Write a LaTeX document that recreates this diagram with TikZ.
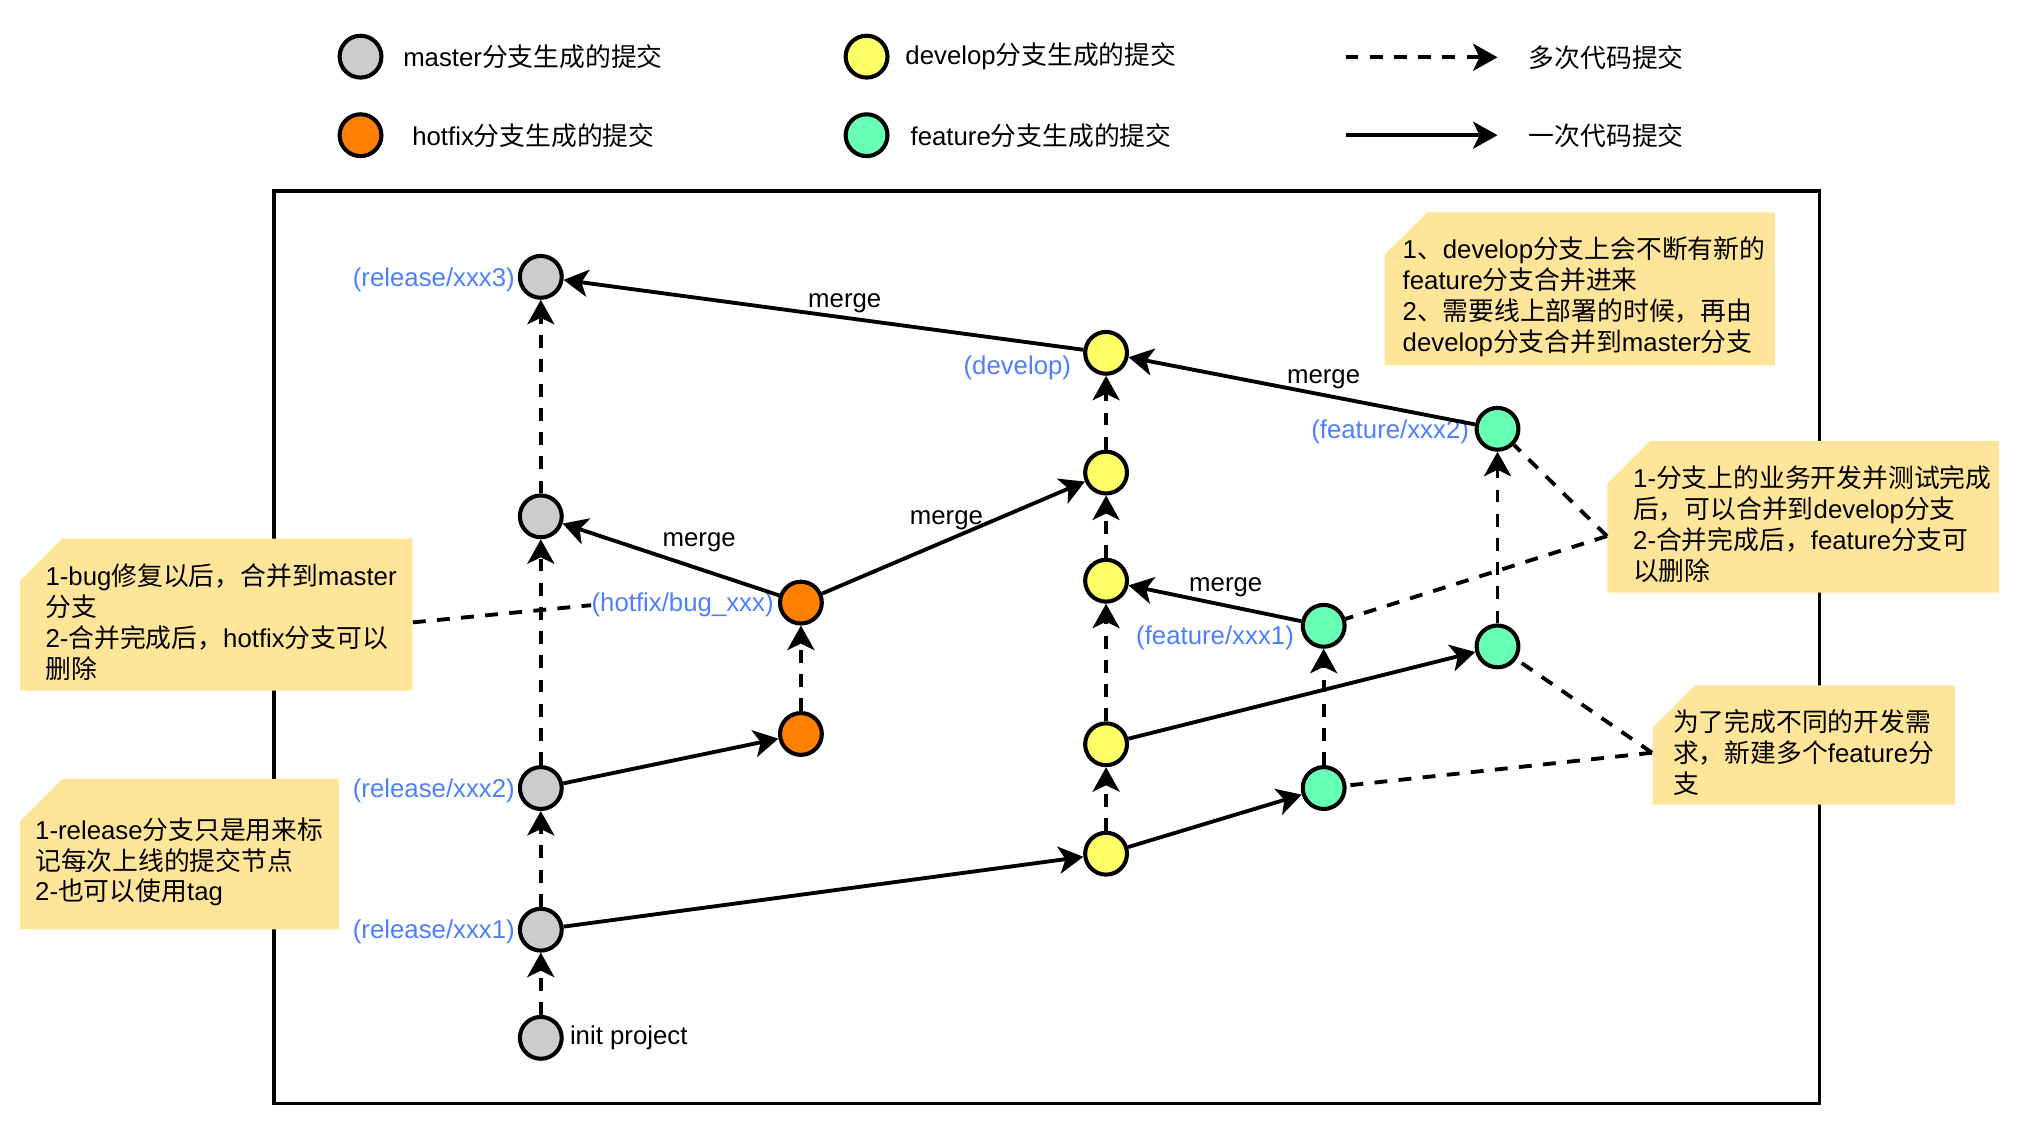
\documentclass[tikz,border=0pt]{standalone}
\usepackage{fontspec}
\setmainfont{Liberation Sans}
\newfontfamily\cjk{Noto Sans CJK SC}
\usetikzlibrary{arrows.meta,positioning}

\definecolor{mastergray}{HTML}{CCCCCC}
\definecolor{hotfixorange}{HTML}{FF8000}
\definecolor{developyellow}{HTML}{FFFF66}
\definecolor{featuregreen}{HTML}{66FFB3}
\definecolor{memofill}{HTML}{FFE599}
\definecolor{branchblue}{HTML}{4D7FFF}

\exhyphenpenalty=10000
\hyphenpenalty=10000

\begin{document}
\begin{tikzpicture}[x=0.02cm, y=0.02cm,
    every node/.style={font=\fontsize{11.4pt}{13.66pt}\selectfont},
    commit/.style={circle, draw, line width=1.8pt, minimum size=0.65cm, inner sep=0pt, fill=#1},
    branchlbl/.style={text=branchblue, inner sep=0pt, yshift=-0.04cm},
    mergelbl/.style={inner sep=0pt},
    onecommit/.style={line width=1.7pt, -{Stealth[length=0.38cm, width=0.42cm, inset=0.1cm]}},
    manycommit/.style={onecommit, dash pattern=on 5.7pt off 5pt},
    memolink/.style={line width=1.7pt, dash pattern=on 5.7pt off 5pt},
    memo/.style 2 args={anchor=north west, align=left, inner ysep=0pt,
      minimum width=#1, minimum height=#2,
      path picture={\fill[memofill] ([xshift=0.66cm]path picture bounding box.north west)
        -- (path picture bounding box.north east)
        -- ([yshift=0.24cm]path picture bounding box.south east)
        -- ([yshift=0.24cm]path picture bounding box.south west)
        -- ([yshift=-0.66cm]path picture bounding box.north west) -- cycle;}}]

    \useasboundingbox (0,0) rectangle (1568,-880);

    % --- 1. 凡例 ---
    \node[commit=mastergray]    (legMaster)  at (280,-44)  {};
    \node[commit=hotfixorange]  (legHotfix)  at (280,-105) {};
    \node[commit=developyellow] (legDevelop) at (673,-44)  {};
    \node[commit=featuregreen]  (legFeature) at (673,-105) {};
    \node[inner sep=0pt, right=0.3cm of legMaster]  (legMasterTxt)  {master{\cjk 分支生成的提交}};
    \node[inner sep=0pt, right=0.44cm of legHotfix] (legHotfixTxt)  {hotfix{\cjk 分支生成的提交}};
    \node[inner sep=0pt, right=0.24cm of legDevelop] (legDevelopTxt) {develop{\cjk 分支生成的提交}};
    \node[inner sep=0pt, right=0.32cm of legFeature] (legFeatureTxt) {feature{\cjk 分支生成的提交}};

    % 矢印の凡例（破線：多次, 実線：一次）
    \coordinate (legDashA)  at (1045,-44.5);
    \coordinate (legDashB)  at (1163,-44.5);
    \coordinate (legSolidA) at (1045,-105);
    \coordinate (legSolidB) at (1163,-105);
    \draw[manycommit] (legDashA) -- (legDashB);
    \draw[onecommit]  (legSolidA) -- (legSolidB);
    \node[inner sep=0pt, right=0.48cm of legDashB]  (legDashTxt)  {{\cjk 多次代码提交}};
    \node[inner sep=0pt, right=0.48cm of legSolidB] (legSolidTxt) {{\cjk 一次代码提交}};

    % --- 2. 外枠 ---
    \draw[line width=1.7pt] (213,-148) rectangle (1413,-857);

    % --- 3. x座標の基準定義 ---
    % xMaster: master, xHotfix: hotfix, xDevelop: develop, xFeatA/xFeatB: feature
    \def\xMaster{420}
    \def\xHotfix{622}
    \def\xDevelop{859}
    \def\xFeatA{1028}
    \def\xFeatB{1163}

    % --- 4. コミット（丸）---
    \node[commit=mastergray] (M0)   at (\xMaster,-806) {};
    \node[commit=mastergray] (M1)   at (\xMaster,-722) {};
    \node[commit=mastergray] (M2)   at (\xMaster,-612) {};
    \node[commit=mastergray] (MMid) at (\xMaster,-401) {};
    \node[commit=mastergray] (M3)   at (\xMaster,-215) {};

    \node[commit=hotfixorange] (H1) at (\xHotfix,-570) {};
    \node[commit=hotfixorange] (H2) at (\xHotfix,-468) {};

    \node[commit=developyellow] (D1) at (\xDevelop,-663) {};
    \node[commit=developyellow] (D2) at (\xDevelop,-578) {};
    \node[commit=developyellow] (D3) at (\xDevelop,-451) {};
    \node[commit=developyellow] (D4) at (\xDevelop,-367) {};
    \node[commit=developyellow] (D5) at (\xDevelop,-274) {};

    \node[commit=featuregreen] (FA1) at (\xFeatA,-612) {};
    \node[commit=featuregreen] (FA2) at (\xFeatA,-486) {};
    \node[commit=featuregreen] (FB1) at (\xFeatB,-502) {};
    \node[commit=featuregreen] (FB2) at (\xFeatB,-333) {};

    % --- 5. ブランチ名 ---
    \node[branchlbl, left=0.04cm of M3]  (lblM3) {(release/xxx3)};
    \node[branchlbl, left=0.04cm of M2]  (lblM2) {(release/xxx2)};
    \node[branchlbl, left=0.04cm of M1]  (lblM1) {(release/xxx1)};
    \node[inner sep=0pt, right=0.09cm of M0] (lblInit) {init project};
    \node[branchlbl, left=0.06cm of H2] (lblH2) {(hotfix/bug\_xxx)};
    \node[branchlbl, left=0.18cm of D5, yshift=-0.19cm] (lblD5) {(develop)};
    \node[branchlbl, left=0.1cm of FA2, yshift=-0.15cm] (lblFA2) {(feature/xxx1)};
    \node[branchlbl, left=0.08cm of FB2] (lblFB2) {(feature/xxx2)};

    % --- 6. 枝 ---
    % 多次提交（破線）
    \draw[manycommit] (M0) -- (M1);
    \draw[manycommit] (M1) -- (M2);
    \draw[manycommit] (M2) -- (MMid);
    \draw[manycommit] (MMid) -- (M3);
    \draw[manycommit] (H1) -- (H2);
    \draw[manycommit] (D1) -- (D2);
    \draw[manycommit] (D2) -- (D3);
    \draw[manycommit] (D3) -- (D4);
    \draw[manycommit] (D4) -- (D5);
    \draw[manycommit] (FA1) -- (FA2);
    \draw[manycommit] (FB1) -- (FB2);

    % 一次提交（実線）
    \draw[onecommit] (M1) -- (D1);
    \draw[onecommit] (M2) -- (H1);
    \draw[onecommit] (D1) -- (FA1);
    \draw[onecommit] (D2) -- (FB1);

    % merge
    \draw[onecommit] (H2)  -- node[mergelbl, pos=0.369, above=0.23cm]  {merge} (MMid);
    \draw[onecommit] (H2)  -- node[mergelbl, pos=0.473, above=0.13cm]  {merge} (D4);
    \draw[onecommit] (FA2) -- node[mergelbl, pos=0.437, above=0.1cm]   {merge} (D3);
    \draw[onecommit] (FB2) -- node[mergelbl, pos=0.437, above=0.07cm]  {merge} (D5);
    \draw[onecommit] (D5)  -- node[mergelbl, pos=0.459, above=0.046cm] {merge} (M3);

    % --- 7. メモ ---
    \node[memo={6.06cm}{2.62cm}, inner xsep=0.28cm, text width=5.5cm] (memoDevelop) at (1075,-164.5)
      {1{\cjk 、}develop{\cjk 分支上会不断有新的}\\feature{\cjk 分支合并进来}\\2{\cjk 、需要线上部署的时候，再由}\\develop{\cjk 分支合并到}master{\cjk 分支}};
    \node[memo={6.08cm}{2.6cm}, inner xsep=0.4cm, text width=5.28cm] (memoFeature) at (1248,-342)
      {1-{\cjk 分支上的业务开发并测试完成}\\{\cjk 后，可以合并到}develop{\cjk 分支}\\2-{\cjk 合并完成后，}feature{\cjk 分支可}\\{\cjk 以删除}};
    \node[memo={6.1cm}{2.6cm}, inner xsep=0.4cm, text width=5.3cm] (memoHotfix) at (15,-418)
      {1-bug{\cjk 修复以后，合并到}master\\{\cjk 分支}\\2-{\cjk 合并完成后，}hotfix{\cjk 分支可以}\\{\cjk 删除}};
    \node[memo={4.96cm}{2.58cm}, inner xsep=0.24cm, text width=4.48cm] (memoRelease) at (15,-604.5)
      {1-release{\cjk 分支只是用来标}\\{\cjk 记每次上线的提交节点}\\2-{\cjk 也可以使用}tag};
    \node[memo={4.7cm}{2.09cm}, inner xsep=0.32cm, text width=4.06cm] (memoNeed) at (1283,-532)
      {{\cjk 为了完成不同的开发需}\\{\cjk 求，新建多个}feature{\cjk 分}\\{\cjk 支}};

    % --- 8. メモとの破線 ---
    \draw[memolink] (memoHotfix.east) -- (lblH2.west);
    \draw[memolink] ([yshift=-0.18cm]memoFeature.west) -- (FB2);
    \draw[memolink] ([yshift=-0.18cm]memoFeature.west) -- (FA2);
    \draw[memolink] (memoNeed.west) -- (FB1);
    \draw[memolink] (memoNeed.west) -- (FA1);

  \end{tikzpicture}
\end{document}
